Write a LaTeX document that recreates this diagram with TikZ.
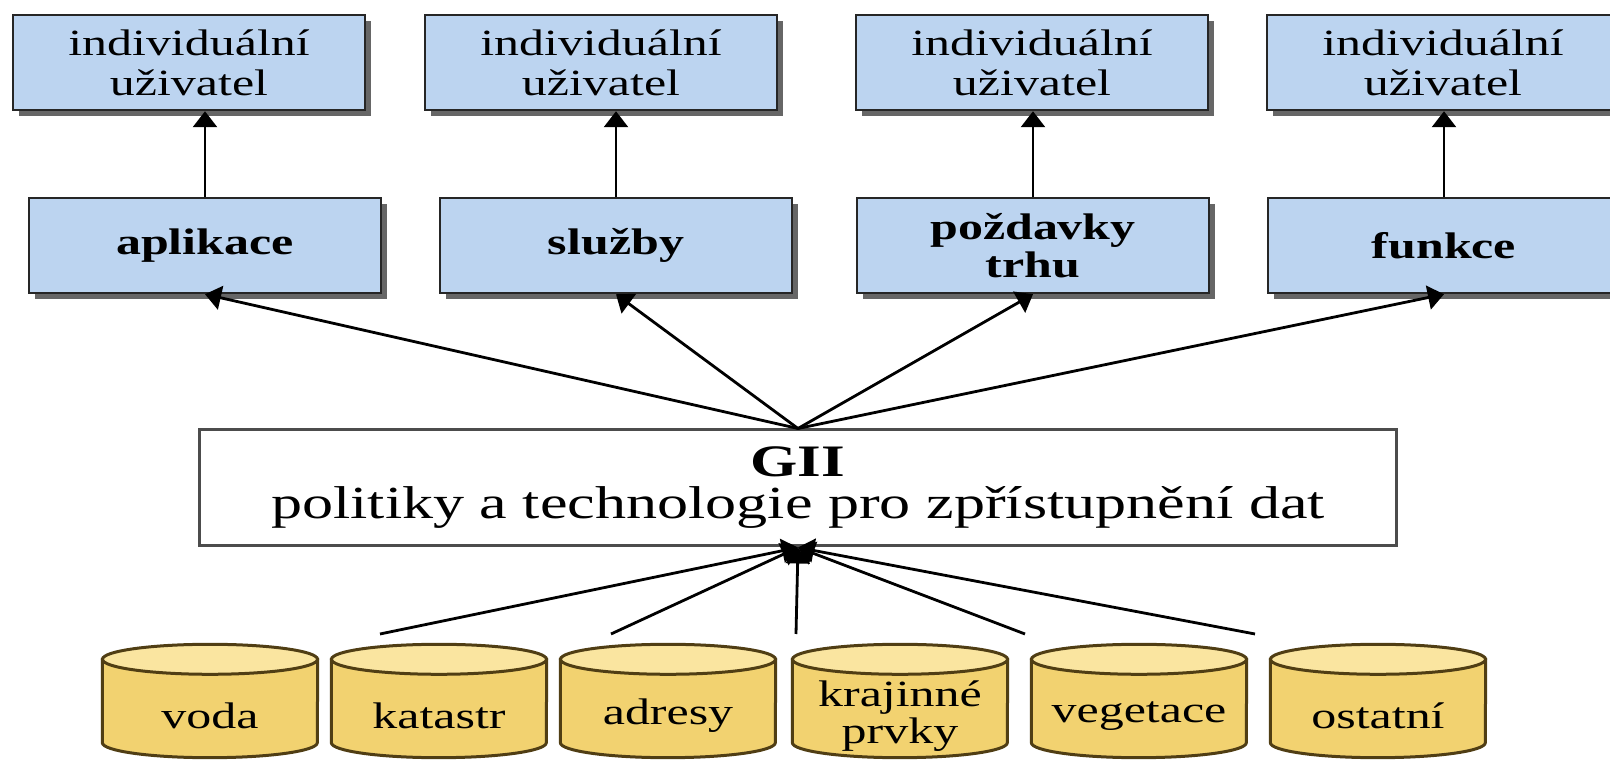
\documentclass[tikz,border=0pt]{standalone}
\usepackage{fontspec}
\setmainfont{Liberation Serif}[FakeStretch=1.35]
\usetikzlibrary{arrows.meta,positioning,shadows,backgrounds}
\definecolor{boxblue}{RGB}{188,212,240}
\definecolor{cylgold}{RGB}{242,210,112}
\definecolor{cyltop}{RGB}{250,229,160}
\definecolor{cylline}{RGB}{80,62,20}

\begin{document}
\begin{tikzpicture}[x=1pt, y=1pt,
  user/.style={draw=black!85, line width=2.5pt, fill=boxblue, minimum width=352pt,
               minimum height=95pt, align=center, inner sep=0pt,
               font=\fontsize{37}{40}\selectfont,
               drop shadow={shadow xshift=6pt, shadow yshift=-6pt, fill=black!60, opacity=1}},
  role/.style={user, font=\fontsize{37}{38}\selectfont\bfseries},
  data/.style={minimum width=215pt, minimum height=83pt, inner sep=0pt, align=center,
               font=\fontsize{37}{37}\selectfont},
  cylbody/.style={draw=cylline, line width=3pt, fill=cylgold},
  cyltopf/.style={draw=cylline, line width=3pt, fill=cyltop},
  arr/.style={-{Triangle[length=16pt,width=24pt]}, line width=2.8pt}]
\useasboundingbox (0,0) rectangle (1610,760);

\node[user] (u1) at (189,697.5) {individuální\\uživatel};
\node[user] (u2) at (601,697.5) {individuální\\uživatel};
\node[user] (u3) at (1032,697.5) {individuální\\uživatel};
\node[user] (u4) at (1443,697.5) {individuální\\uživatel};

\node[role] (apl) at (205,514.5) {aplikace};
\node[role] (sluz) at (616,514.5) {služby};
\node[role] (poz) at (1033,514.5) {poždavky\\trhu};
\node[role] (fun) at (1444,514.5) {funkce};

\node[draw=black!70, line width=3pt, fill=white, minimum width=1197pt,
      minimum height=116pt, align=center, inner sep=0pt,
      font=\fontsize{46}{42}\selectfont] (gii) at (798,272)
  {{\fontsize{45}{42}\selectfont\bfseries GII}\\politiky a technologie pro zpřístupnění dat};

\node[data] (voda) at (210,44) {voda};
\node[data] (kat) at (439,44) {katastr};
\node[data] (adr) at (668,44) {adresy};
\node[data] (kraj) at (900,44) {krajinné\\prvky};
\node[data] (veg) at (1139,44) {vegetace};
\node[data] (ost) at (1378,44) {ostatní};

\begin{scope}[on background layer]
\foreach \c in {voda,kat,adr,kraj,veg,ost} {
  \filldraw[cylbody] ([yshift=15pt]\c.north west) -- ([yshift=15pt]\c.south west)
    arc[start angle=180, end angle=360, x radius=107.5pt, y radius=15pt]
    -- ([yshift=15pt]\c.north east) -- cycle;
  \filldraw[cyltopf] ([yshift=15pt]\c.north) ellipse[x radius=107.5pt, y radius=15pt];
}
\end{scope}

\draw[arr] (apl.north) -- (apl.north |- u1.south);
\draw[arr] (sluz.north) -- (sluz.north |- u2.south);
\draw[arr] (poz.north) -- (poz.north |- u3.south);
\draw[arr] (fun.north) -- (fun.north |- u4.south);

\draw[arr] (gii.north) -- (apl.south);
\draw[arr] (gii.north) -- (sluz.south);
\draw[arr] (gii.north) -- (poz.south);
\draw[arr] (gii.north) -- (fun.south);

\coordinate (s1) at (380,126);
\coordinate (s2) at (611,126);
\coordinate (s3) at (796,126);
\coordinate (s4) at (1025,126);
\coordinate (s5) at (1255,126);
\foreach \s in {s1,s2,s3,s4,s5}
  \draw[arr] (\s) -- (gii.south);
\end{tikzpicture}
\end{document}
